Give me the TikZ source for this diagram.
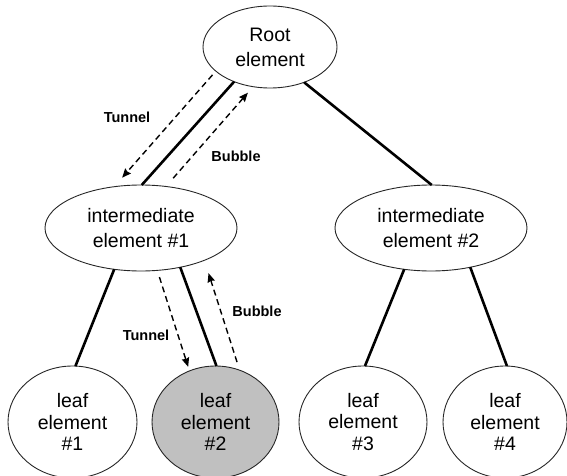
\documentclass[tikz,border=0pt]{standalone}
\usepackage{fontspec}
\setmainfont{Liberation Sans}
\usetikzlibrary{shapes.geometric,arrows.meta}
\tikzset{
  elem/.style={ellipse,draw=black!85,line width=0.9pt,inner sep=0pt,outer sep=0pt,align=center,
    font=\fontsize{19.5}{25}\selectfont},
  leafelem/.style={elem,font=\fontsize{19.5}{21.7}\selectfont,minimum height=112pt},
  tree/.style={line width=2.6pt},
  flow/.style={line width=1.4pt,dash pattern=on 6pt off 4pt,-{Stealth[length=9pt,width=7.5pt,inset=1pt]}},
  lbl/.style={font=\fontsize{14.5}{17}\selectfont\bfseries,inner sep=0pt}
}
\begin{document}
\begin{tikzpicture}[x=1pt,y=-1pt]
\useasboundingbox (0,0) rectangle (567,476);
% nodes
\node[elem,minimum width=134pt,minimum height=82pt] (root) at (270,47) {Root\\element};
\node[elem,minimum width=192pt,minimum height=86pt] (int1) at (141,228) {intermediate\\element \#1};
\node[elem,minimum width=192pt,minimum height=86pt] (int2) at (431,228) {intermediate\\element \#2};
\node[leafelem,minimum width=129pt] (leaf1) at (72.5,422) {leaf\\element\\\#1};
\node[leafelem,minimum width=127pt,fill={rgb,255:red,192;green,192;blue,192}] (leaf2) at (215.5,422) {leaf\\element\\\#2};
\node[leafelem,minimum width=128pt] (leaf3) at (363,422) {leaf\\element\\\#3};
\node[leafelem,minimum width=124pt] (leaf4) at (505,422) {leaf\\element\\\#4};
% tree edges
\draw[tree] (root.224) -- (int1.89);
\draw[tree] (root.314) -- (int2.89);
\draw[tree] (int1.237.5) -- (leaf1.87.3);
\draw[tree] (int1.315.7) -- (leaf2.89.5);
\draw[tree] (int2.237.5) -- (leaf3.88);
\draw[tree] (int2.315.7) -- (leaf4.88);
% flow arrows
\draw[flow,shorten <=5pt,shorten >=12pt] (root.204.3) -- (int1.123);
\draw[flow,shorten <=11pt,shorten >=8pt] (int1.59.4) -- (root.247.5);
\draw[flow,shorten <=7pt,shorten >=4.3pt] (int1.291.8) -- (leaf2.117.2);
\draw[flow,shorten <=8.5pt,shorten >=13.5pt] (leaf2.65.1) -- (int1.333.3);
% labels
\node[lbl] (t1) at (127,117) {Tunnel};
\node[lbl] (b1) at (236,156) {Bubble};
\node[lbl] (t2) at (146,335) {Tunnel};
\node[lbl] (b2) at (257,311) {Bubble};
\end{tikzpicture}
\end{document}
